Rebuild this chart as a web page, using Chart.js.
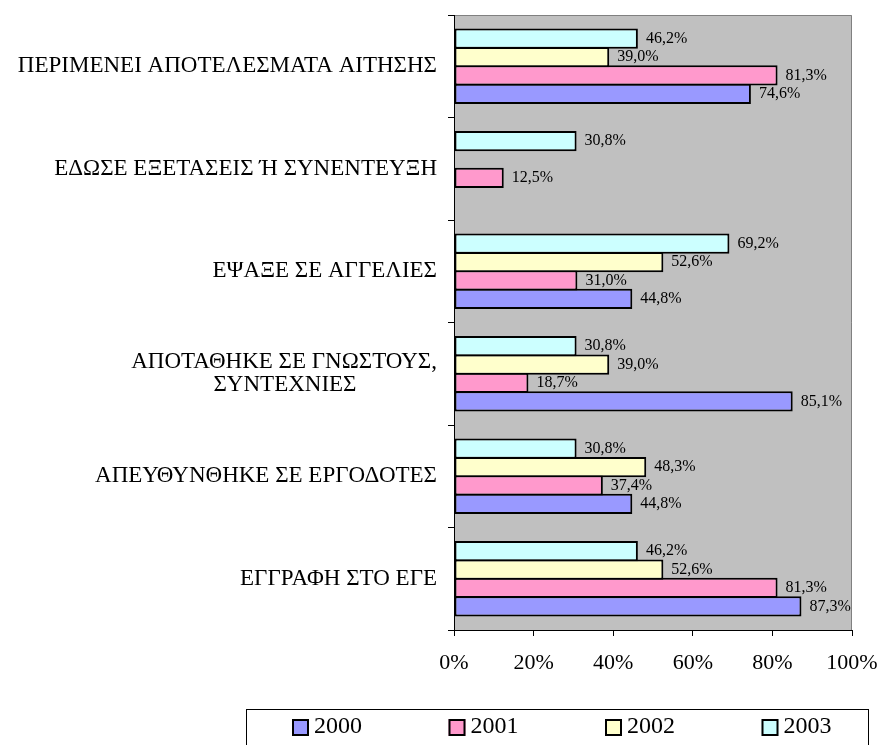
<!DOCTYPE html>
<html>
<head>
<meta charset="utf-8">
<title>Τρόποι αναζήτησης εργασίας</title>
<script src="https://cdn.jsdelivr.net/npm/chart.js@4/dist/chart.umd.min.js"></script>
<style>
  html, body { margin: 0; padding: 0; background: #fff; }
  canvas { display: block; }
</style>
</head>
<body>
<canvas id="chart" width="882" height="745"></canvas>
<script>
const categories = [
  'ΠΕΡΙΜΕΝΕΙ ΑΠΟΤΕΛΕΣΜΑΤΑ ΑΙΤΗΣΗΣ',
  'ΕΔΩΣΕ ΕΞΕΤΑΣΕΙΣ Ή ΣΥΝΕΝΤΕΥΞΗ',
  'ΕΨΑΞΕ ΣΕ ΑΓΓΕΛΙΕΣ',
  ['ΑΠΟΤΑΘΗΚΕ ΣΕ ΓΝΩΣΤΟΥΣ,', 'ΣΥΝΤΕΧΝΙΕΣ'],
  'ΑΠΕΥΘΥΝΘΗΚΕ ΣΕ ΕΡΓΟΔΟΤΕΣ',
  'ΕΓΓΡΑΦΗ ΣΤΟ ΕΓΕ'
];
const years = ['2000', '2001', '2002', '2003'];
const values2000 = [74.6, null, 44.8, 85.1, 44.8, 87.3];
const values2001 = [81.3, 12.5, 31.0, 18.7, 37.4, 81.3];
const values2002 = [39.0, null, 52.6, 39.0, 48.3, 52.6];
const values2003 = [46.2, 30.8, 69.2, 30.8, 30.8, 46.2];
const xTicks = [0, 20, 40, 60, 80, 100];

const colors = ['#9999ff', '#ff99cc', '#ffffcc', '#ccffff'];
const serif = "'Liberation Serif', 'Times New Roman', serif";
const labelSize = 23;
const labelFont = labelSize + 'px ' + serif;

// pad shorter lines with nbsp so a right-aligned block reads as centred
function centerLines(lines) {
  if (!Array.isArray(lines)) return lines;
  const ctx = document.createElement('canvas').getContext('2d');
  ctx.font = labelFont;
  const w = lines.map(l => ctx.measureText(l).width);
  const max = Math.max(...w);
  const sp = ctx.measureText('\u00A0').width;
  return lines.map((l, i) => l + '\u00A0'.repeat(Math.round((max - w[i]) / 2 / sp)));
}

function pct(v) {
  return v.toFixed(1).replace('.', ',') + '%';
}

const series = [values2000, values2001, values2002, values2003];

// top bar in each group is the latest year
const datasets = years.map((y, i) => ({
  label: y,
  data: series[i],
  backgroundColor: colors[i],
  borderColor: '#000',
  borderWidth: 2,
  borderSkipped: false,
  barPercentage: 1.1,
  categoryPercentage: 0.72
})).reverse();

const plotBackground = {
  id: 'plotBackground',
  beforeDraw(chart) {
    const { ctx, chartArea: a } = chart;
    ctx.save();
    ctx.fillStyle = '#c0c0c0';
    ctx.fillRect(a.left, a.top, a.right - a.left, a.bottom - a.top);
    ctx.strokeStyle = '#808080';
    ctx.lineWidth = 1;
    ctx.beginPath();
    ctx.moveTo(a.left, a.top + 0.5);
    ctx.lineTo(a.right - 0.5, a.top + 0.5);
    ctx.lineTo(a.right - 0.5, a.bottom);
    ctx.stroke();
    ctx.restore();
  }
};

const valueLabels = {
  id: 'valueLabels',
  afterDatasetsDraw(chart) {
    const { ctx } = chart;
    ctx.save();
    ctx.font = '16px ' + serif;
    ctx.fillStyle = '#000';
    ctx.textAlign = 'left';
    ctx.textBaseline = 'middle';
    chart.getSortedVisibleDatasetMetas().forEach(meta => {
      const ds = chart.data.datasets[meta.index];
      meta.data.forEach((bar, j) => {
        const v = ds.data[j];
        if (v == null) return;
        ctx.fillText(pct(v), bar.x + 8, bar.y);
      });
    });
    ctx.restore();
  }
};

const boxedLegend = {
  id: 'boxedLegend',
  afterDraw(chart) {
    const { ctx } = chart;
    const left = 246, top = 709, right = 868, bottom = 760;
    ctx.save();
    ctx.strokeStyle = '#000';
    ctx.lineWidth = 1;
    ctx.strokeRect(left + 0.5, top + 0.5, right - left, bottom - top);
    ctx.font = '24px ' + serif;
    ctx.textBaseline = 'middle';
    ctx.textAlign = 'left';
    years.forEach((y, i) => {
      const x = 292 + i * 156.5;
      ctx.fillStyle = colors[i];
      ctx.fillRect(x, 719, 17, 17);
      ctx.strokeStyle = '#000';
      ctx.lineWidth = 2;
      ctx.strokeRect(x + 1, 720, 15, 15);
      ctx.fillStyle = '#000';
      ctx.fillText(y, x + 22, 727);
    });
    ctx.restore();
  }
};

new Chart(document.getElementById('chart'), {
  type: 'bar',
  data: {
    labels: categories.map(centerLines),
    datasets: datasets
  },
  options: {
    indexAxis: 'y',
    responsive: false,
    animation: false,
    devicePixelRatio: 1,
    layout: { padding: { top: 15, right: 30, bottom: 70, left: 0 } },
    scales: {
      x: {
        min: 0,
        max: 100,
        afterBuildTicks: scale => { scale.ticks = xTicks.map(v => ({ value: v })); },
        afterFit: scale => {
          scale.height = 45;
          scale.paddingLeft = 0;
          scale.paddingRight = 0;
        },
        grid: { drawOnChartArea: false, color: '#000', tickLength: 6 },
        border: { color: '#000', width: 1 },
        ticks: {
          color: '#000',
          font: { family: serif, size: 22 },
          padding: 14,
          callback: v => v + '%'
        }
      },
      y: {
        afterFit: scale => {
          scale.width = 454;
          scale.paddingTop = 0;
          scale.paddingBottom = 0;
        },
        grid: { drawOnChartArea: false, color: '#000', tickLength: 6, offset: true },
        border: { color: '#000', width: 1 },
        ticks: {
          color: '#000',
          font: { family: serif, size: labelSize, lineHeight: 1.0 },
          padding: 11,
          autoSkip: false
        }
      }
    },
    plugins: {
      legend: { display: false },
      tooltip: { enabled: false }
    }
  },
  plugins: [plotBackground, valueLabels, boxedLegend]
});
</script>
</body>
</html>
